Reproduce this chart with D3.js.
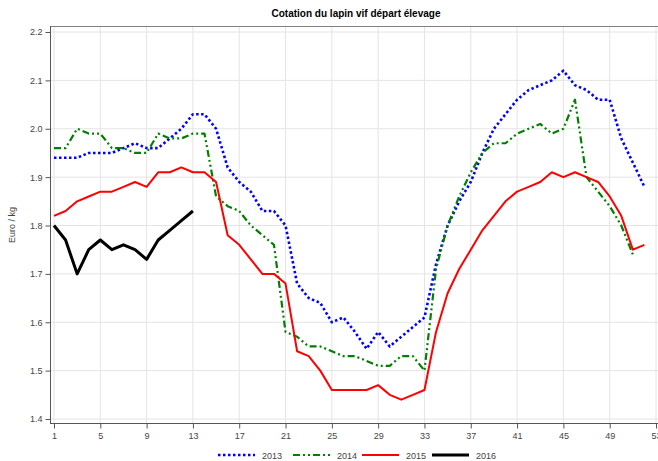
<!DOCTYPE html>
<html><head><meta charset="utf-8">
<script src="https://cdn.jsdelivr.net/npm/d3@7"></script>
<style>
html,body{margin:0;padding:0;background:#fff;}
svg{display:block;font-family:"Liberation Sans",Arial,sans-serif;}
</style></head>
<body>
<svg id="c" width="658" height="461"></svg>
<script>
const title = "Cotation du lapin vif départ élevage";
const yTitle = "Euro / kg";
const xTicks = [1,5,9,13,17,21,25,29,33,37,41,45,49,53];
const yTicks = [1.4,1.5,1.6,1.7,1.8,1.9,2.0,2.1,2.2];
const seriesNames = ["2013","2014","2015","2016"];
const v2013 = [1.94,1.94,1.94,1.95,1.95,1.95,1.96,1.97,1.96,1.96,1.98,2.00,2.03,2.03,2.00,1.92,1.89,1.87,1.83,1.83,1.80,1.68,1.65,1.64,1.60,1.61,1.58,1.545,1.58,1.55,1.57,1.59,1.61,1.72,1.80,1.85,1.89,1.95,2.00,2.03,2.06,2.08,2.09,2.10,2.12,2.09,2.08,2.06,2.06,1.98,1.93,1.88];
const v2014 = [1.96,1.96,2.00,1.99,1.99,1.96,1.96,1.95,1.95,1.99,1.98,1.98,1.99,1.99,1.86,1.84,1.83,1.80,1.78,1.76,1.58,1.57,1.55,1.55,1.54,1.53,1.53,1.52,1.51,1.51,1.53,1.53,1.50,1.71,1.80,1.86,1.91,1.95,1.97,1.97,1.99,2.00,2.01,1.99,2.00,2.06,1.90,1.87,1.84,1.80,1.74];
const v2015 = [1.82,1.83,1.85,1.86,1.87,1.87,1.88,1.89,1.88,1.91,1.91,1.92,1.91,1.91,1.89,1.78,1.76,1.73,1.70,1.70,1.68,1.54,1.53,1.50,1.46,1.46,1.46,1.46,1.47,1.45,1.44,1.45,1.46,1.58,1.66,1.71,1.75,1.79,1.82,1.85,1.87,1.88,1.89,1.91,1.90,1.91,1.90,1.89,1.86,1.82,1.75,1.76];
const v2016 = [1.80,1.77,1.70,1.75,1.77,1.75,1.76,1.75,1.73,1.77,1.79,1.81,1.83];
const colors = ["#0000ff","#007f00","#ff0000","#000000"];
const dashes = ["2.5,2.5","7,3,2,3,2,3",null,null];
const widths = [2.6,2.2,2,3];

const svg = d3.select("#c");
const pLeft = 50, pRight = 662, pTop = 26, pBottom = 423;
const x = d3.scaleLinear().domain([1,53]).range([54,656]);
const y = d3.scaleLinear().domain([1.4,2.2]).range([419,32]);

// grid
const g = svg.append("g");
g.selectAll(".vg").data(xTicks).enter().append("line")
  .attr("x1",d=>x(d)).attr("x2",d=>x(d)).attr("y1",pTop).attr("y2",pBottom)
  .attr("stroke","#e4e4e4").attr("stroke-width",1);
g.selectAll(".hg").data(yTicks).enter().append("line")
  .attr("x1",pLeft).attr("x2",pRight).attr("y1",d=>y(d)).attr("y2",d=>y(d))
  .attr("stroke","#e4e4e4").attr("stroke-width",1);
// frame top
svg.append("line").attr("x1",pLeft).attr("x2",pRight).attr("y1",pTop+0.5).attr("y2",pTop+0.5)
  .attr("stroke","#808080").attr("stroke-width",1);

// axes
const xAxis = d3.axisBottom(x).tickValues(xTicks).tickSize(5).tickPadding(4).tickFormat(d3.format("d"));
const ax = svg.append("g").attr("transform",`translate(0,${pBottom+0.5})`).call(xAxis);
ax.select(".domain").attr("d",`M${pLeft},0H${pRight}`).attr("stroke","#555");
const yAxis = d3.axisLeft(y).tickValues(yTicks).tickSize(5).tickPadding(3).tickFormat(d3.format(".1f"));
const ay = svg.append("g").attr("transform",`translate(${pLeft+0.5},0)`).call(yAxis);
ay.select(".domain").attr("d",`M0,${pTop}V${pBottom}`).attr("stroke","#555");
[ax,ay].forEach(a=>{
  a.selectAll(".tick line").attr("stroke","#555");
  a.selectAll("text").attr("fill","#444").style("font-size","9px").style("font-family","'Liberation Sans',Arial,sans-serif");
});

// lines
const all = [v2013,v2014,v2015,v2016];
const line = d3.line().x((d,i)=>x(i+1)).y(d=>y(d));
all.forEach((vals,k)=>{
  const p = svg.append("path").datum(vals).attr("d",line).attr("fill","none")
    .attr("stroke",colors[k]).attr("stroke-width",widths[k]).attr("stroke-linejoin","round");
  if(dashes[k]) p.attr("stroke-dasharray",dashes[k]);
});

// title
svg.append("text").attr("x",356).attr("y",17).attr("text-anchor","middle")
  .style("font-size","10px").style("font-weight","bold").attr("fill","#000").text(title);
// y title
svg.append("text").attr("transform","translate(15,225) rotate(-90)").attr("text-anchor","middle")
  .style("font-size","9px").attr("fill","#444").text(yTitle);

// legend
const legX = [218,293,362,432];
const leg = svg.append("g");
seriesNames.forEach((n,k)=>{
  const l = leg.append("line").attr("x1",legX[k]).attr("x2",legX[k]+37).attr("y1",455).attr("y2",455)
    .attr("stroke",colors[k]).attr("stroke-width",widths[k]);
  if(dashes[k]) l.attr("stroke-dasharray",dashes[k]);
  leg.append("text").attr("x",legX[k]+44).attr("y",458.5).style("font-size","9px").attr("fill","#444").text(n);
});
</script>
</body></html>
